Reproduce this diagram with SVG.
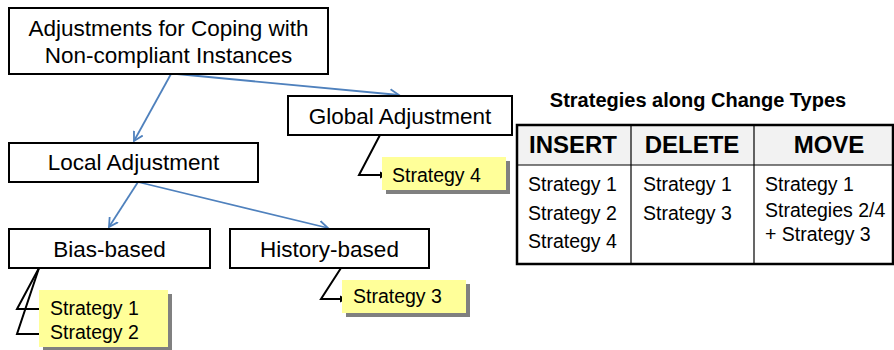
<svg xmlns="http://www.w3.org/2000/svg" width="894" height="350" viewBox="0 0 894 350">
<style>
.node{fill:#fff;stroke:#000;stroke-width:2}
.t{font-family:"Liberation Sans",Arial,sans-serif;fill:#000}
.nt{font-size:22.5px;text-anchor:middle}
.st{font-size:19.5px}
.hd{font-size:24px;font-weight:bold;text-anchor:middle}
.note{fill:#ffff99}
.shadow{fill:#808080}
.blue{stroke:#4f81bd;stroke-width:1.8;fill:none;marker-end:url(#ob)}
.blk{stroke:#000;stroke-width:2;fill:none;marker-end:url(#fb)}
.tl{stroke:#000;stroke-width:1.2}
</style>
<defs>
<marker id="ob" markerUnits="userSpaceOnUse" markerWidth="12" markerHeight="12" refX="9" refY="5" orient="auto" viewBox="0 0 12 10">
<path d="M0,0 L9,5 L0,10" fill="none" stroke="#4f81bd" stroke-width="1.8"/>
</marker>
<marker id="fb" markerUnits="userSpaceOnUse" markerWidth="8" markerHeight="8" refX="7" refY="3.5" orient="auto" viewBox="0 0 8 7">
<path d="M0,0 L7,3.5 L0,7 Z" fill="#000"/>
</marker>
</defs>
<rect width="894" height="350" fill="#fff"/>

<g id="connectors">
<line class="blue" x1="171" y1="74" x2="134" y2="141"/>
<line class="blue" x1="177" y1="74" x2="399" y2="95"/>
<line class="blue" x1="138" y1="182" x2="109" y2="227"/>
<line class="blue" x1="138" y1="182" x2="328" y2="228"/>
<polyline class="blk" points="380,135 359,175 387,175"/>
<polyline class="blk" points="39,268 17,309 46,309"/>
<polyline class="blk" points="39,268 17,334 46,334"/>
<polyline class="blk" points="341,268 321,299 347,299"/>
</g>

<g id="root">
<rect class="node" x="9" y="8" width="319" height="66"/>
<text class="t nt" x="168.5" y="36">Adjustments for Coping with</text>
<text class="t nt" x="168.5" y="63">Non-compliant Instances</text>
</g>
<g id="global">
<rect class="node" x="288" y="96" width="224" height="39"/>
<text class="t nt" x="400" y="124">Global Adjustment</text>
</g>
<g id="local">
<rect class="node" x="9" y="143" width="249" height="39"/>
<text class="t nt" x="133.5" y="170">Local Adjustment</text>
</g>
<g id="bias">
<rect class="node" x="9" y="229" width="201" height="39"/>
<text class="t nt" x="109.5" y="257">Bias-based</text>
</g>
<g id="history">
<rect class="node" x="230" y="229" width="199" height="39"/>
<text class="t nt" x="329.5" y="257">History-based</text>
</g>

<g id="strategy4">
<rect class="shadow" x="386" y="161" width="124" height="33"/>
<rect class="note" x="382" y="157" width="124" height="33"/>
<text class="t st" x="392" y="182">Strategy 4</text>
</g>
<g id="strategy12">
<rect class="shadow" x="43" y="294" width="129" height="57"/>
<rect class="note" x="39" y="290" width="129" height="57"/>
<text class="t st" x="50" y="315">Strategy 1</text>
<text class="t st" x="50" y="339">Strategy 2</text>
</g>
<g id="strategy3">
<rect class="shadow" x="346" y="284" width="124" height="33"/>
<rect class="note" x="342" y="280" width="124" height="33"/>
<text class="t st" x="353" y="303">Strategy 3</text>
</g>

<g id="table">
<text class="t" x="698" y="107" font-size="20px" font-weight="bold" text-anchor="middle">Strategies along Change Types</text>
<rect x="517" y="125" width="376" height="40" fill="#f2f2f2"/>
<rect x="517" y="125" width="376" height="139" fill="none" stroke="#000" stroke-width="2.5"/>
<line class="tl" x1="517" y1="165" x2="893" y2="165"/>
<line class="tl" x1="631" y1="125" x2="631" y2="264"/>
<line class="tl" x1="754" y1="125" x2="754" y2="264"/>
<text class="t hd" x="573" y="153">INSERT</text>
<text class="t hd" x="692" y="153">DELETE</text>
<text class="t hd" x="829" y="153">MOVE</text>
<text class="t st" x="528" y="191">Strategy 1</text>
<text class="t st" x="528" y="219.5">Strategy 2</text>
<text class="t st" x="528" y="248">Strategy 4</text>
<text class="t st" x="643" y="191">Strategy 1</text>
<text class="t st" x="643" y="219.5">Strategy 3</text>
<text class="t st" x="765" y="191">Strategy 1</text>
<text class="t st" x="765" y="217">Strategies 2/4</text>
<text class="t st" x="765" y="241">+ Strategy 3</text>
</g>
</svg>
